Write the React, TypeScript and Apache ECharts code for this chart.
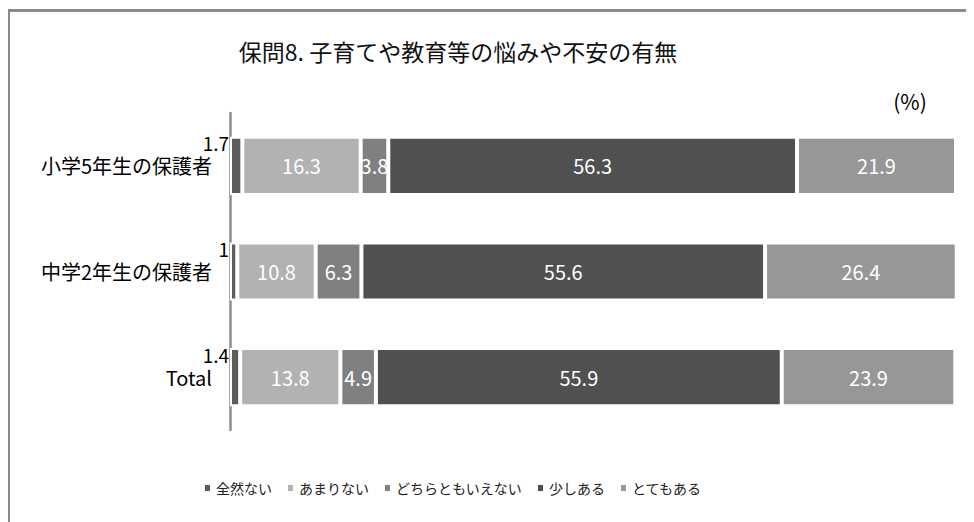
import React, { useEffect, useRef } from "react";
import * as echarts from "echarts";

const categories = ["小学5年生の保護者", "中学2年生の保護者", "Total"];
const seriesNames = ["全然ない", "あまりない", "どちらともいえない", "少しある", "とてもある"];
const zenzen = [1.7, 1.0, 1.4];
const amari = [16.3, 10.8, 13.8];
const dochira = [3.8, 6.3, 4.9];
const sukoshi = [56.3, 55.6, 55.9];
const totemo = [21.9, 26.4, 23.9];
const colors = ["#5c5c5c", "#b2b2b2", "#808080", "#505050", "#979797"];
const titleText = "保問8. 子育てや教育等の悩みや不安の有無";
const unitText = "(%)";

const JP = "'Noto Sans CJK JP', sans-serif";
const NUM = "'Liberation Sans Narrow', 'Noto Sans CJK JP', sans-serif";

export default function App() {
  const ref = useRef<HTMLDivElement>(null);
  useEffect(() => {
    if (!ref.current) return;
    const chart = echarts.init(ref.current, undefined, { renderer: "svg" });
    const values = [zenzen, amari, dochira, sukoshi, totemo];
    const series = values.map((d, i) => ({
      name: seriesNames[i],
      type: "bar",
      stack: "total",
      barWidth: "55%",
      data: d,
      itemStyle: { color: colors[i], borderColor: "#ffffff", borderWidth: 2 },
      label:
        i === 0
          ? {
              show: true,
              position: [-1, 6],
              align: "right",
              verticalAlign: "middle",
              color: "#000",
              fontSize: 19,
              fontFamily: NUM,
            }
          : {
              show: true,
              position: "inside",
              color: "#fff",
              fontSize: 20,
              fontFamily: NUM,
            },
    }));
    chart.setOption({
      animation: false,
      backgroundColor: "#ffffff",
      grid: { left: 222, right: 18, top: 105, bottom: 92 },
      xAxis: { type: "value", min: 0, max: 100, show: false },
      yAxis: {
        type: "category",
        data: categories,
        inverse: true,
        axisLine: { show: true, lineStyle: { color: "#8c8c8c", width: 2.5 } },
        axisTick: { show: false },
        axisLabel: { margin: 18, fontSize: 20, color: "#000", fontFamily: JP, lineHeight: 22 },
      },
      legend: {
        data: seriesNames,
        left: 190,
        top: 468,
        itemWidth: 7,
        itemHeight: 8,
        itemGap: 14,
        icon: "rect",
        textStyle: { fontSize: 14, color: "#222", fontFamily: JP },
      },
      graphic: [
        {
          type: "line",
          shape: { x1: 0, y1: 2.5, x2: 966, y2: 2.5 },
          style: { stroke: "#8a8a8a", lineWidth: 3 },
        },
        {
          type: "line",
          shape: { x1: 0.5, y1: 1, x2: 0.5, y2: 514 },
          style: { stroke: "#8a8a8a", lineWidth: 3 },
        },
        {
          type: "text",
          x: 450,
          y: 43,
          style: {
            text: titleText,
            align: "center",
            verticalAlign: "middle",
            fontSize: 23,
            fill: "#111",
            fontFamily: JP,
          },
        },
        {
          type: "text",
          x: 902,
          y: 93,
          style: {
            text: unitText,
            align: "center",
            verticalAlign: "middle",
            fontSize: 21,
            fill: "#000",
            fontFamily: NUM,
          },
        },
      ],
      series,
    });
    return () => chart.dispose();
  }, []);
  return <div ref={ref} style={{ width: 966, height: 514 }} />;
}
